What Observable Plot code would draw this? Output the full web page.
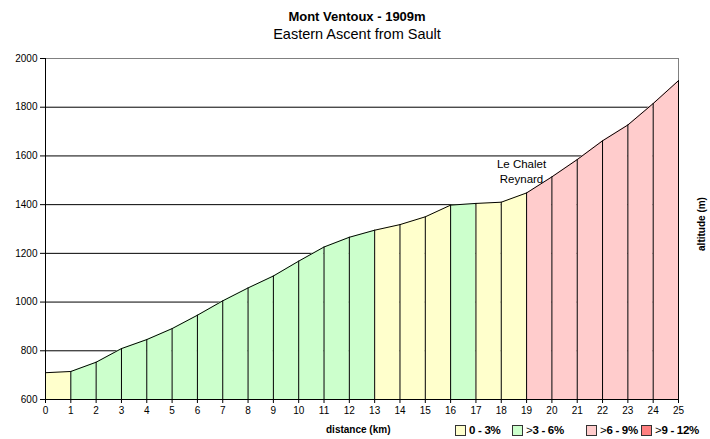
<!DOCTYPE html>
<html>
<head>
<meta charset="utf-8">
<script src="https://cdn.jsdelivr.net/npm/d3@7"></script>
<script src="https://cdn.jsdelivr.net/npm/@observablehq/plot@0.6"></script>
<style>
  body { margin: 0; background: #fff; font-family: "Liberation Sans", Arial, sans-serif; }
  #wrap { position: relative; width: 710px; height: 439px; overflow: hidden; }
  #chart { position: absolute; left: 0; top: 0; }
  .abs { position: absolute; white-space: nowrap; color: #000; }
  #title { left: 0; width: 714px; text-align: center; top: 9px; font-weight: bold; font-size: 13px; }
  #subtitle { left: 0; width: 714px; text-align: center; top: 26px; font-size: 14.5px; }
  #xlabel { left: 326px; top: 424px; font-weight: bold; font-size: 10px; }
  #ylabel { left: 701px; top: 224px; font-weight: bold; font-size: 10px; transform: translate(-50%, -50%) rotate(-90deg); }
  .leg { top: 424px; font-size: 11.5px; font-weight: bold; display: flex; align-items: center; letter-spacing: -0.3px; }
  .leg .gt { font-weight: normal; }
  .sw { width: 11px; height: 11px; border: 1px solid #333; margin-right: 3px; box-sizing: border-box; }
</style>
</head>
<body>
<div id="wrap">
  <div id="chart"></div>
  <div class="abs" id="title">Mont Ventoux - 1909m</div>
  <div class="abs" id="subtitle">Eastern Ascent from Sault</div>
  <div class="abs" id="xlabel">distance (km)</div>
  <div class="abs" id="ylabel">altitude (m)</div>
</div>
<script>
// ---- data ----
const km = [0,1,2,3,4,5,6,7,8,9,10,11,12,13,14,15,16,17,18,19,20,21,22,23,24,25];
const altitude = [710,715,753,809,846,891,946,1005,1058,1107,1168,1226,1266,1295,1318,1350,1398,1405,1410,1448,1514,1585,1662,1727,1815,1909];
// gradient class of each 1-km segment (segment i spans km i..i+1)
const segmentClass = ["0-3","3-6","3-6","3-6","3-6","3-6","3-6","3-6","3-6","3-6","3-6","3-6","3-6",
                      "0-3","0-3","0-3","3-6","0-3","0-3","6-9","6-9","6-9","6-9","6-9","6-9"];
const legendKeys = ["0-3","3-6","6-9","9-12"];
const legendPrefix = ["", ">", ">", ">"];
const legendLabels = ["0 - 3%", "3 - 6%", "6 - 9%", "9 - 12%"];
const yTicks = [600,800,1000,1200,1400,1600,1800,2000];
const gridLines = [800,1000,1200,1400,1600,1800];
const annotationText = ["Le Chalet\nReynard"];
const annotationX = [18.8];
const annotationY = [1540];

// ---- styles ----
const colors = {"0-3": "#FFFFCC", "3-6": "#CCFFCC", "6-9": "#FFCCCC", "9-12": "#FF8080"};

const profile = km.map((k, i) => ({x: k, y: altitude[i]}));
const segRows = [];
segmentClass.forEach((c, i) => {
  segRows.push({x: km[i], y: altitude[i], seg: i, cls: c});
  segRows.push({x: km[i + 1], y: altitude[i + 1], seg: i, cls: c});
});
const annots = annotationText.map((t, i) => ({t, x: annotationX[i], y: annotationY[i]}));

const plot = Plot.plot({
  width: 710,
  height: 439,
  marginTop: 58,
  marginBottom: 40,
  marginLeft: 45,
  marginRight: 32,
  style: {fontFamily: '"Liberation Sans", Arial, sans-serif', fontSize: "10px", color: "#000", background: "#fff"},
  x: {domain: [0, 25], ticks: km, tickSize: 4, tickPadding: 3, tickFormat: d => String(d), label: null},
  y: {domain: [600, 2000], ticks: yTicks, tickSize: 5, tickPadding: 3, tickFormat: d => String(d), label: null},
  marks: [
    Plot.ruleY(gridLines, {stroke: "#000", strokeWidth: 1}),
    Plot.ruleY([2000], {stroke: "#808080", strokeWidth: 1}),
    Plot.ruleX([25], {y1: 600, y2: 2000, stroke: "#808080", strokeWidth: 1}),
    Plot.areaY(segRows, {x: "x", y1: 600, y2: "y", z: "seg", fill: d => colors[d.cls], fillOpacity: 1, curve: "linear"}),
    Plot.ruleX(profile, {x: "x", y1: 600, y2: "y", stroke: "#000", strokeWidth: 1}),
    Plot.line(profile, {x: "x", y: "y", stroke: "#000", strokeWidth: 1}),
    Plot.ruleX([0], {y1: 600, y2: 2000, stroke: "#000"}),
    Plot.ruleY([600], {stroke: "#000"}),
    Plot.text(annots, {x: "x", y: "y", text: "t", fontSize: 11.5, lineHeight: 1.35, fill: "#000", textAnchor: "middle"})
  ]
});
document.getElementById("chart").appendChild(plot);

// legend
const wrap = document.getElementById("wrap");
const legLeft = [455, 512, 586, 641];
legendKeys.forEach((k, i) => {
  const d = document.createElement("div");
  d.className = "abs leg";
  d.style.left = legLeft[i] + "px";
  const sw = document.createElement("span");
  sw.className = "sw";
  sw.style.background = colors[k];
  d.appendChild(sw);
  if (legendPrefix[i]) {
    const g = document.createElement("span");
    g.className = "gt";
    g.textContent = legendPrefix[i];
    d.appendChild(g);
  }
  const t = document.createElement("span");
  t.textContent = legendLabels[i];
  d.appendChild(t);
  wrap.appendChild(d);
});
</script>
</body>
</html>
